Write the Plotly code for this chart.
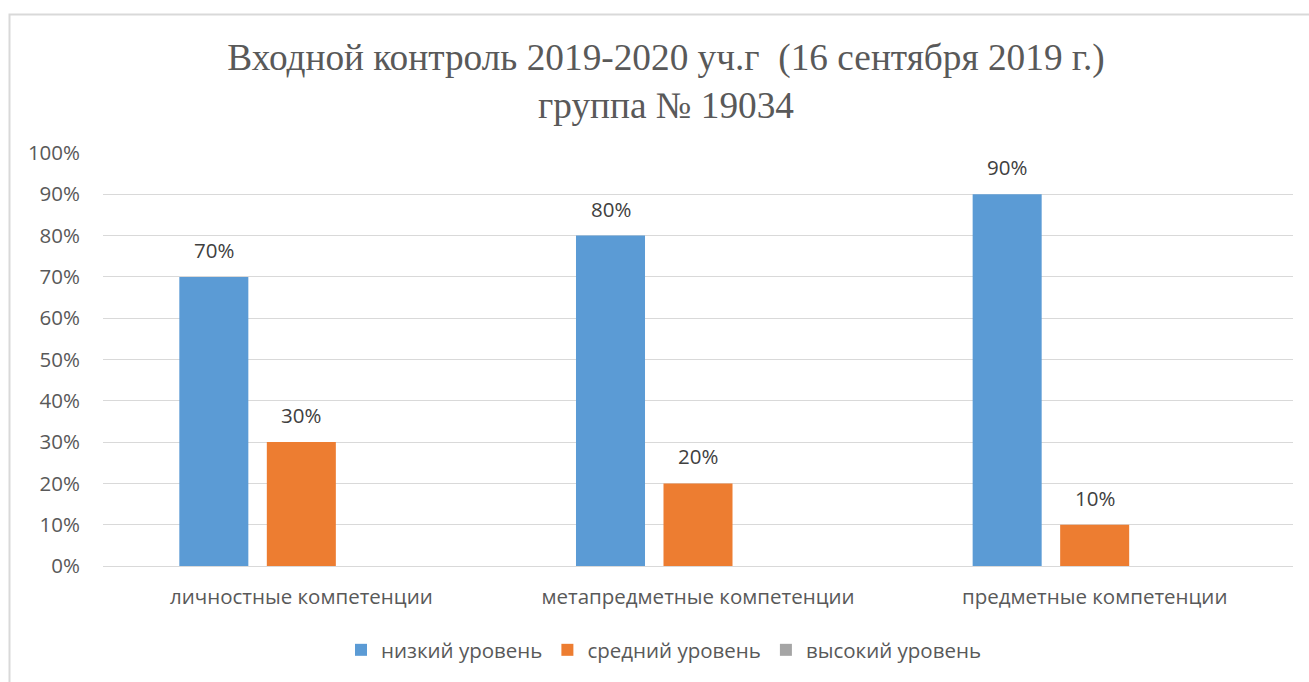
import plotly.graph_objects as go

categories = ["личностные компетенции", "метапредметные компетенции", "предметные компетенции"]
series_names = ["низкий уровень", "средний уровень", "высокий уровень"]
low = [0.70, 0.80, 0.90]
mid = [0.30, 0.20, 0.10]
high = [0.0, 0.0, 0.0]
colors = ["#5b9bd5", "#ed7d31", "#a5a5a5"]
y_ticks = [0, 0.1, 0.2, 0.3, 0.4, 0.5, 0.6, 0.7, 0.8, 0.9, 1.0]

title_text = "Входной контроль 2019-2020 уч.г  (16 сентября 2019 г.)<br>группа № 19034"

SANS = "Open Sans, Liberation Sans"
bar_w = 0.174
step = 0.2206
offsets = [-step, 0.0, step]
xs = list(range(len(categories)))

fig = go.Figure()
annotations = []
for name, vals, col, off in zip(series_names, [low, mid, high], colors, offsets):
    fig.add_trace(go.Bar(
        x=[i + off for i in xs], y=vals, name=name, width=bar_w,
        marker=dict(color=col, line=dict(width=0)),
        hoverinfo="skip",
    ))
    for i, v in zip(xs, vals):
        if v:
            annotations.append(dict(
                x=i + off, y=v, xref="x", yref="y", text=f"{v:.0%}",
                showarrow=False, yanchor="bottom", yshift=11,
                font=dict(family=SANS, size=20.5, color="#404040"),
            ))

fig.update_layout(
    width=1309, height=682,
    margin=dict(l=103, r=16, t=153, b=116),
    paper_bgcolor="white", plot_bgcolor="white",
    barmode="overlay",
    title=dict(
        text=title_text, x=666/1309, xanchor="center", y=1-70/682, yanchor="middle",
        font=dict(family="Liberation Serif, Times New Roman", size=37.3, color="#595959"),
    ),
    xaxis=dict(
        range=[-0.5, 2.5], tickvals=xs, ticktext=categories,
        showgrid=False, zeroline=False, showline=False, ticks="",
        ticklabelstandoff=16,
        tickfont=dict(family=SANS, size=20.5, color="#595959"),
    ),
    yaxis=dict(
        range=[0, 1], tickvals=y_ticks, tickformat=".0%",
        showgrid=True, gridcolor="#d9d9d9", gridwidth=1,
        zeroline=True, zerolinecolor="#d9d9d9", zerolinewidth=1,
        showline=False, ticks="", ticklabelstandoff=22,
        tickfont=dict(family=SANS, size=20.5, color="#595959"),
    ),
    legend=dict(
        orientation="h", xref="container", yref="container",
        x=664/1309, xanchor="center", y=32/682, yanchor="middle",
        font=dict(family=SANS, size=20.5, color="#595959"),
        itemwidth=30, traceorder="normal",
    ),
    annotations=annotations,
    shapes=[dict(
        type="rect", xref="paper", yref="paper",
        x0=(9.5-103)/1190, x1=(1330-103)/1190, y0=-0.5, y1=(566-14.5)/413,
        line=dict(color="#d9d9d9", width=2), fillcolor="rgba(0,0,0,0)", layer="below",
    )],
    showlegend=True,
)

fig.write_html("out.html", config={"displayModeBar": False},
               post_script="document.body.style.margin='0';document.body.style.padding='0';")
